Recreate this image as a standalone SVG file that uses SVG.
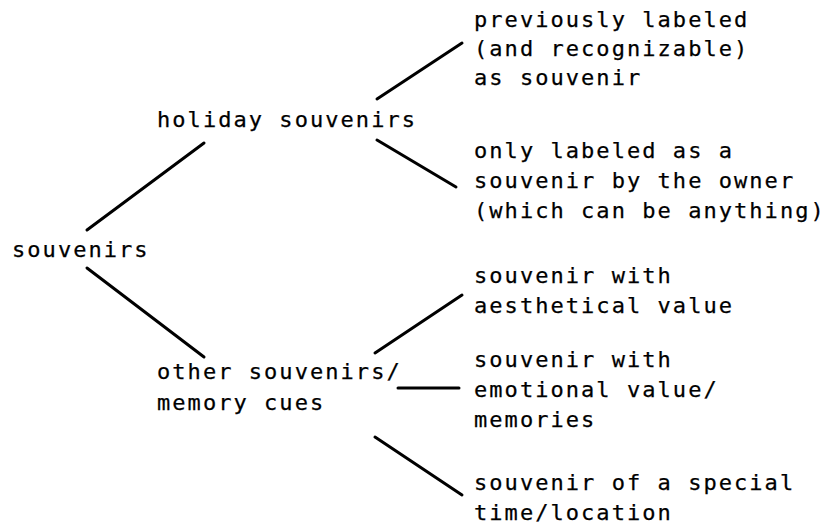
<svg xmlns="http://www.w3.org/2000/svg" width="827" height="525" viewBox="0 0 827 525">
  <style>
    text { font-family: "DejaVu Sans Mono", "Liberation Mono", monospace; font-size: 22px; letter-spacing: 2.05px; fill: #000; stroke: #000; stroke-width: 0.25px; }
    .edge { stroke: #000; stroke-width: 3; stroke-linecap: round; fill: none; }
  </style>
  <rect width="827" height="525" fill="#fff"/>

  <g id="connectors">
    <line class="edge" x1="87" y1="230" x2="204" y2="143"/>
    <line class="edge" x1="87" y1="268" x2="204" y2="357"/>
    <line class="edge" x1="377" y1="99" x2="462" y2="43"/>
    <line class="edge" x1="377" y1="140" x2="456" y2="187"/>
    <line class="edge" x1="375" y1="353" x2="462" y2="295"/>
    <line class="edge" x1="398" y1="388" x2="459" y2="388"/>
    <line class="edge" x1="375" y1="437" x2="462" y2="495"/>
  </g>

  <g id="root">
    <text x="12" y="257">souvenirs</text>
  </g>
  <g id="holiday">
    <text x="157" y="127">holiday souvenirs</text>
  </g>
  <g id="other">
    <text x="157" y="379">other souvenirs/</text>
    <text x="157" y="410">memory cues</text>
  </g>
  <g id="prelabeled">
    <text x="474" y="27">previously labeled</text>
    <text x="474" y="56">(and recognizable)</text>
    <text x="474" y="85">as souvenir</text>
  </g>
  <g id="owner-labeled">
    <text x="474" y="158">only labeled as a</text>
    <text x="474" y="188">souvenir by the owner</text>
    <text x="474" y="218">(which can be anything)</text>
  </g>
  <g id="aesthetical">
    <text x="474" y="283">souvenir with</text>
    <text x="474" y="313">aesthetical value</text>
  </g>
  <g id="emotional">
    <text x="474" y="367">souvenir with</text>
    <text x="474" y="397">emotional value/</text>
    <text x="474" y="427">memories</text>
  </g>
  <g id="special">
    <text x="474" y="490">souvenir of a special</text>
    <text x="474" y="520">time/location</text>
  </g>
</svg>
